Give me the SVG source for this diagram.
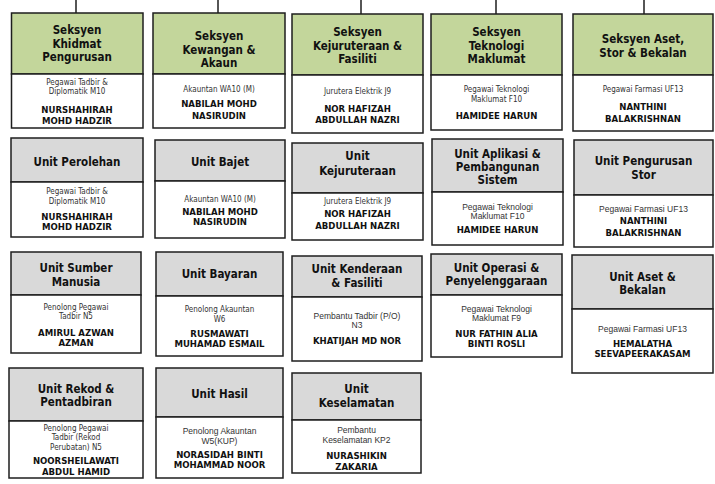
<svg xmlns="http://www.w3.org/2000/svg" width="715" height="484" viewBox="0 0 715 484">
<style>
rect{stroke:#1e1e1e;stroke-width:1.5}
.sec{fill:#c3d69b}
.unit{fill:#d9d9d9}
.body{fill:#ffffff}
text{text-anchor:middle;fill:#111}
.t{font-family:"DejaVu Sans Condensed","DejaVu Sans",sans-serif;font-weight:bold;font-size:11.5px}
.p{font-family:"DejaVu Sans Condensed","DejaVu Sans",sans-serif;font-size:8px;fill:#333}
.pa{font-family:"Liberation Sans",Arial,sans-serif;font-size:8.5px;fill:#333}
.n{font-family:"DejaVu Sans Condensed","DejaVu Sans",sans-serif;font-weight:bold;font-size:9.5px}
.c{stroke:#1e1e1e;stroke-width:1.5;fill:none}
</style>
<g id="connectors">
<line class="c" x1="76" y1="0" x2="76" y2="13"/>
<line class="c" x1="218" y1="0" x2="218" y2="13"/>
<line class="c" x1="361" y1="0" x2="361" y2="14"/>
<line class="c" x1="496" y1="0" x2="496" y2="14"/>
<line class="c" x1="644" y1="0" x2="644" y2="14"/>
</g>
<g id="seksyen-khidmat-pengurusan">
<rect class="sec" x="11.5" y="13" width="131.5" height="61"/>
<rect class="body" x="11.5" y="74" width="131.5" height="54"/>
<text class="t" x="77" y="34">Seksyen</text>
<text class="t" x="77" y="48">Khidmat</text>
<text class="t" x="77" y="61">Pengurusan</text>
<text class="p" x="77" y="85">Pegawai Tadbir &amp;</text>
<text class="p" x="77" y="94">Diplomatik M10</text>
<text class="n" x="77" y="113">NURSHAHIRAH</text>
<text class="n" x="77" y="124">MOHD HADZIR</text>
</g>
<g id="seksyen-kewangan">
<rect class="sec" x="153" y="13" width="132" height="61"/>
<rect class="body" x="153" y="74" width="132" height="54"/>
<text class="t" x="219" y="40">Seksyen</text>
<text class="t" x="219" y="53.5">Kewangan &amp;</text>
<text class="t" x="219" y="67">Akaun</text>
<text class="p" x="219" y="92">Akauntan WA10 (M)</text>
<text class="n" x="219" y="107">NABILAH MOHD</text>
<text class="n" x="219" y="119">NASIRUDIN</text>
</g>
<g id="seksyen-kejuruteraan">
<rect class="sec" x="292" y="14" width="131" height="61"/>
<rect class="body" x="292" y="75" width="131" height="58"/>
<text class="t" x="357.5" y="36">Seksyen</text>
<text class="t" x="357.5" y="49.5">Kejuruteraan &amp;</text>
<text class="t" x="357.5" y="63">Fasiliti</text>
<text class="p" x="357.5" y="94">Jurutera Elektrik J9</text>
<text class="n" x="357.5" y="112">NOR HAFIZAH</text>
<text class="n" x="357.5" y="123">ABDULLAH NAZRI</text>
</g>
<g id="seksyen-teknologi-maklumat">
<rect class="sec" x="431" y="14" width="131" height="61"/>
<rect class="body" x="431" y="75" width="131" height="55"/>
<text class="t" x="496.5" y="36">Seksyen</text>
<text class="t" x="496.5" y="49.5">Teknologi</text>
<text class="t" x="496.5" y="63">Maklumat</text>
<text class="p" x="496.5" y="92">Pegawai Teknologi</text>
<text class="p" x="496.5" y="102">Maklumat F10</text>
<text class="n" x="496.5" y="119">HAMIDEE HARUN</text>
</g>
<g id="seksyen-aset-stor-bekalan">
<rect class="sec" x="573" y="14" width="140" height="61"/>
<rect class="body" x="573" y="75" width="140" height="56"/>
<text class="t" x="643" y="43">Seksyen Aset,</text>
<text class="t" x="643" y="57">Stor &amp; Bekalan</text>
<text class="p" x="643" y="92">Pegawai Farmasi UF13</text>
<text class="n" x="643" y="110">NANTHINI</text>
<text class="n" x="643" y="122">BALAKRISHNAN</text>
</g>
<g id="unit-perolehan">
<rect class="unit" x="11" y="138" width="132" height="44"/>
<rect class="body" x="11" y="182" width="132" height="55"/>
<text class="t" x="77" y="166">Unit Perolehan</text>
<text class="p" x="77" y="194">Pegawai Tadbir &amp;</text>
<text class="p" x="77" y="204">Diplomatik M10</text>
<text class="n" x="77" y="220">NURSHAHIRAH</text>
<text class="n" x="77" y="230">MOHD HADZIR</text>
</g>
<g id="unit-bajet">
<rect class="unit" x="155" y="140" width="130" height="41"/>
<rect class="body" x="155" y="181" width="130" height="57"/>
<text class="t" x="220" y="166">Unit Bajet</text>
<text class="p" x="220" y="202">Akauntan WA10 (M)</text>
<text class="n" x="220" y="215">NABILAH MOHD</text>
<text class="n" x="220" y="225">NASIRUDIN</text>
</g>
<g id="unit-kejuruteraan">
<rect class="unit" x="292" y="143" width="131" height="50"/>
<rect class="body" x="292" y="193" width="131" height="47"/>
<text class="t" x="357.5" y="160">Unit</text>
<text class="t" x="357.5" y="175">Kejuruteraan</text>
<text class="p" x="357.5" y="204">Jurutera Elektrik J9</text>
<text class="n" x="357.5" y="217">NOR HAFIZAH</text>
<text class="n" x="357.5" y="229">ABDULLAH NAZRI</text>
</g>
<g id="unit-aplikasi">
<rect class="unit" x="432" y="139" width="131" height="53"/>
<rect class="body" x="432" y="192" width="131" height="53"/>
<text class="t" x="497.5" y="158">Unit Aplikasi &amp;</text>
<text class="t" x="497.5" y="171">Pembangunan</text>
<text class="t" x="497.5" y="184">Sistem</text>
<text class="pa" x="497.5" y="210">Pegawai Teknologi</text>
<text class="pa" x="497.5" y="219">Maklumat F10</text>
<text class="n" x="497.5" y="233">HAMIDEE HARUN</text>
</g>
<g id="unit-pengurusan-stor">
<rect class="unit" x="574" y="140" width="139" height="55"/>
<rect class="body" x="574" y="195" width="139" height="52"/>
<text class="t" x="643.5" y="165">Unit Pengurusan</text>
<text class="t" x="643.5" y="179">Stor</text>
<text class="pa" x="643.5" y="212">Pegawai Farmasi UF13</text>
<text class="n" x="643.5" y="224">NANTHINI</text>
<text class="n" x="643.5" y="236">BALAKRISHNAN</text>
</g>
<g id="unit-sumber-manusia">
<rect class="unit" x="11" y="252" width="130" height="43"/>
<rect class="body" x="11" y="295" width="130" height="58"/>
<text class="t" x="76" y="272">Unit Sumber</text>
<text class="t" x="76" y="286">Manusia</text>
<text class="p" x="76" y="310">Penolong Pegawai</text>
<text class="p" x="76" y="319">Tadbir N5</text>
<text class="n" x="76" y="336">AMIRUL AZWAN</text>
<text class="n" x="76" y="346">AZMAN</text>
</g>
<g id="unit-bayaran">
<rect class="unit" x="156" y="252" width="127" height="44"/>
<rect class="body" x="156" y="296" width="127" height="60"/>
<text class="t" x="219.5" y="278">Unit Bayaran</text>
<text class="p" x="219.5" y="312">Penolong Akauntan</text>
<text class="p" x="219.5" y="322">W6</text>
<text class="n" x="219.5" y="337">RUSMAWATI</text>
<text class="n" x="219.5" y="347">MUHAMAD ESMAIL</text>
</g>
<g id="unit-kenderaan-fasiliti">
<rect class="unit" x="292" y="256" width="130" height="41"/>
<rect class="body" x="292" y="297" width="130" height="64"/>
<text class="t" x="357" y="273">Unit Kenderaan</text>
<text class="t" x="357" y="287">&amp; Fasiliti</text>
<text class="pa" x="357" y="319">Pembantu Tadbir (P/O)</text>
<text class="pa" x="357" y="328">N3</text>
<text class="n" x="357" y="344">KHATIJAH MD NOR</text>
</g>
<g id="unit-operasi">
<rect class="unit" x="431" y="254" width="131" height="41"/>
<rect class="body" x="431" y="295" width="131" height="62"/>
<text class="t" x="496.5" y="272">Unit Operasi &amp;</text>
<text class="t" x="496.5" y="284.5">Penyelenggaraan</text>
<text class="pa" x="496.5" y="312">Pegawai Teknologi</text>
<text class="pa" x="496.5" y="321">Maklumat F9</text>
<text class="n" x="496.5" y="337">NUR FATHIN ALIA</text>
<text class="n" x="496.5" y="347">BINTI ROSLI</text>
</g>
<g id="unit-aset-bekalan">
<rect class="unit" x="572" y="255" width="141" height="54"/>
<rect class="body" x="572" y="309" width="141" height="64"/>
<text class="t" x="642.5" y="281">Unit Aset &amp;</text>
<text class="t" x="642.5" y="294">Bekalan</text>
<text class="pa" x="642.5" y="332">Pegawai Farmasi UF13</text>
<text class="n" x="642.5" y="347">HEMALATHA</text>
<text class="n" x="642.5" y="357">SEEVAPEERAKASAM</text>
</g>
<g id="unit-rekod-pentadbiran">
<rect class="unit" x="9" y="368" width="134" height="53"/>
<rect class="body" x="9" y="421" width="134" height="57"/>
<text class="t" x="76" y="393">Unit Rekod &amp;</text>
<text class="t" x="76" y="406">Pentadbiran</text>
<text class="p" x="76" y="431">Penolong Pegawai</text>
<text class="p" x="76" y="440">Tadbir (Rekod</text>
<text class="p" x="76" y="450">Perubatan) N5</text>
<text class="n" x="76" y="464">NOORSHEILAWATI</text>
<text class="n" x="76" y="475">ABDUL HAMID</text>
</g>
<g id="unit-hasil">
<rect class="unit" x="156" y="368" width="127" height="49"/>
<rect class="body" x="156" y="417" width="127" height="61"/>
<text class="t" x="219.5" y="398">Unit Hasil</text>
<text class="pa" x="219.5" y="434">Penolong Akauntan</text>
<text class="pa" x="219.5" y="444">W5(KUP)</text>
<text class="n" x="219.5" y="458">NORASIDAH BINTI</text>
<text class="n" x="219.5" y="468">MOHAMMAD NOOR</text>
</g>
<g id="unit-keselamatan">
<rect class="unit" x="292" y="373" width="129" height="47"/>
<rect class="body" x="292" y="420" width="129" height="53"/>
<text class="t" x="356.5" y="393">Unit</text>
<text class="t" x="356.5" y="407">Keselamatan</text>
<text class="pa" x="356.5" y="433">Pembantu</text>
<text class="pa" x="356.5" y="443">Keselamatan KP2</text>
<text class="n" x="356.5" y="459">NURASHIKIN</text>
<text class="n" x="356.5" y="470">ZAKARIA</text>
</g>
</svg>
